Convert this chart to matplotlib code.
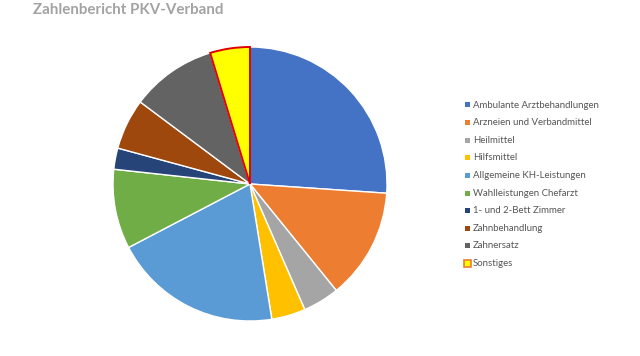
import matplotlib
matplotlib.use("Agg")
import matplotlib.pyplot as plt
from matplotlib.patches import Rectangle

categories = ["Ambulante Arztbehandlungen", "Arzneien und Verbandmittel", "Heilmittel",
              "Hilfsmittel", "Allgemeine KH-Leistungen", "Wahlleistungen Chefarzt",
              "1- und 2-Bett Zimmer", "Zahnbehandlung", "Zahnersatz", "Sonstiges"]
values = [26.1, 13.1, 4.3, 4.0, 19.9, 9.4, 2.5, 6.0, 10.1, 4.7]
colors = ["#4472C4", "#ED7D31", "#A5A5A5", "#FFC000", "#5B9BD5", "#70AD47",
          "#264478", "#9E480E", "#636363", "#FFFF00"]
edges = ["white"] * 9 + ["#E00000"]

W, H = 640, 356
fig = plt.figure(figsize=(W / 100, H / 100), dpi=100)
plt.rcParams['font.family'] = ['Lato', 'DejaVu Sans']

# pie: center (250,184), radius 137 px
cx, cy, r = 250, 184, 137
ax = fig.add_axes([(cx - r) / W, 1 - (cy + r) / H, 2 * r / W, 2 * r / H])
wedges, _ = ax.pie(values, colors=colors, startangle=90, counterclock=False,
                   wedgeprops=dict(linewidth=1.0))
for w, e in zip(wedges, edges):
    w.set_edgecolor(e)
    if e != "white":
        w.set_linewidth(1.4)
        w.set_zorder(3)
ax.set_aspect('equal')
ax.set_xlim(-1, 1)
ax.set_ylim(-1, 1)
ax.axis('off')

fig.text(33 / W, 1 - 10 / H, "Zahlenbericht PKV-Verband", fontsize=10.9,
         color="#A3A3A3", va="center", ha="left", fontweight="bold")

# legend
y0, dy = 105, 17.6
for i, (lab, col, e) in enumerate(zip(categories, colors, edges)):
    y = y0 + i * dy
    s = 5
    if e != "white":
        s = 7
        fig.patches.append(Rectangle(((467 - s / 2) / W, 1 - (y + s / 2) / H), s / W, s / H,
                                     transform=fig.transFigure, facecolor=col,
                                     edgecolor="#ED7D31", linewidth=1.2))
    else:
        fig.patches.append(Rectangle(((467 - s / 2) / W, 1 - (y + s / 2) / H), s / W, s / H,
                                     transform=fig.transFigure, facecolor=col,
                                     edgecolor="none"))
    fig.text(473 / W, 1 - y / H, lab, fontsize=6.9, color="#555555",
             va="center", ha="left")

fig.savefig("out.png", dpi=100, facecolor="white")
